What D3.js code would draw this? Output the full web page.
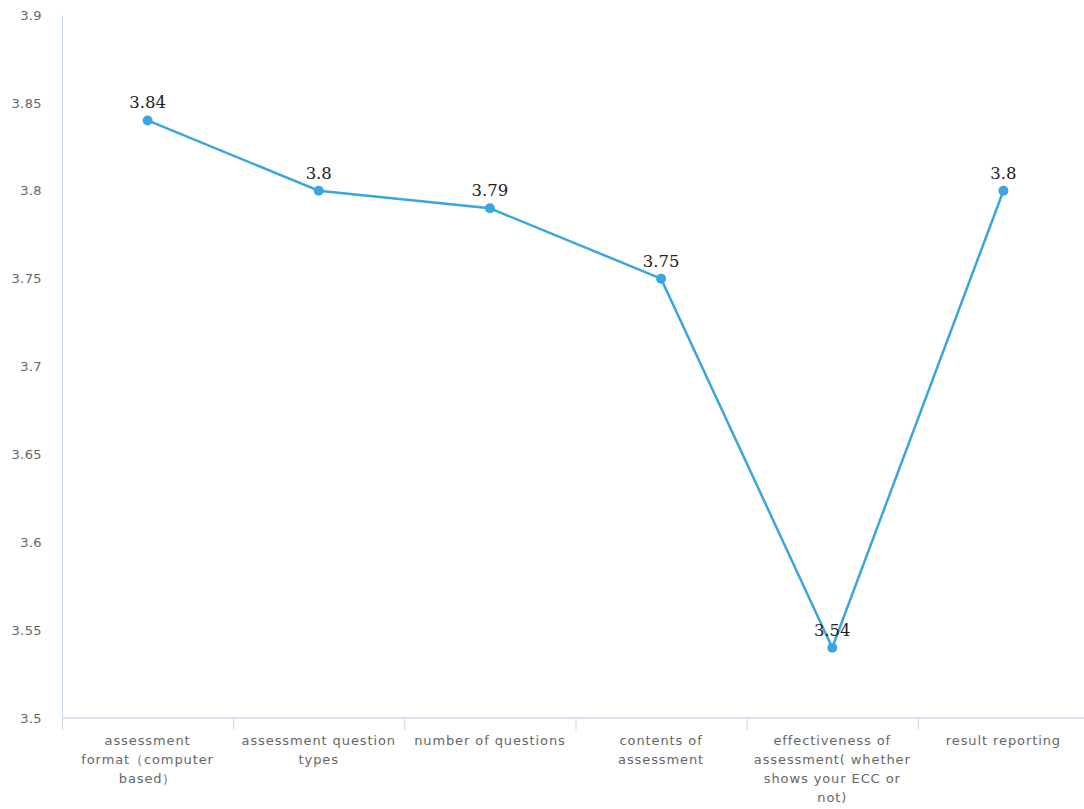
<!DOCTYPE html>
<html>
<head>
<meta charset="utf-8">
<script src="https://cdn.jsdelivr.net/npm/d3@7"></script>
<style>
  html, body { margin: 0; padding: 0; background: #fff; }
  svg { display: block; }
</style>
</head>
<body>
<svg id="chart" width="1084" height="809"></svg>
<script>
// Average ratings per assessment aspect
const categories = [
  "assessment format（computer based）",
  "assessment question types",
  "number of questions",
  "contents of assessment",
  "effectiveness of assessment( whether shows your ECC or not)",
  "result reporting"
];
const values = [3.84, 3.8, 3.79, 3.75, 3.54, 3.8];
const yTicks = [3.5, 3.55, 3.6, 3.65, 3.7, 3.75, 3.8, 3.85, 3.9];

const svg = d3.select("#chart");
const W = 1084, H = 809;
const plot = { left: 62, right: 1089, top: 15, bottom: 718 };

const x = d3.scaleBand()
  .domain(categories)
  .range([plot.left, plot.right])
  .paddingInner(0).paddingOuter(0);

const y = d3.scaleLinear()
  .domain([3.5, 3.9])
  .range([plot.bottom, plot.top]);

const axisColor = "#c9d7e8";
const labelColor = "#666";
const sansFont = "DejaVu Sans, Verdana, sans-serif";

// Y axis
const yAxis = svg.append("g")
  .attr("transform", `translate(${plot.left},0)`)
  .call(d3.axisLeft(y).tickValues(yTicks).tickSize(0).tickPadding(20)
    .tickFormat(d => String(+d.toFixed(2))));
yAxis.select(".domain").attr("stroke", axisColor);
yAxis.selectAll("text")
  .attr("fill", labelColor)
  .style("font-family", sansFont)
  .style("font-size", "13px")
  .style("letter-spacing", "0.4px");

// X axis with ticks at band edges
const xAxisG = svg.append("g")
  .attr("transform", `translate(0,${y(3.5)})`);
xAxisG.append("line")
  .attr("x1", plot.left).attr("x2", W)
  .attr("y1", 0).attr("y2", 0)
  .attr("stroke", axisColor).attr("stroke-width", 1.5);
xAxisG.selectAll("line.tick")
  .data(categories)
  .join("line")
  .attr("class", "tick")
  .attr("x1", d => x(d) + 0.5).attr("x2", d => x(d) + 0.5)
  .attr("y1", 0).attr("y2", 12)
  .attr("stroke", axisColor);

// Wrapped category labels
function wrap(textSel, width) {
  textSel.each(function() {
    const text = d3.select(this);
    const words = text.text().split(/\s+/);
    const cx = text.attr("x");
    text.text(null);
    let line = [];
    let tspan = text.append("tspan").attr("x", cx).attr("dy", 0);
    for (const w of words) {
      line.push(w);
      tspan.text(line.join(" "));
      if (tspan.node().getComputedTextLength() > width && line.length > 1) {
        line.pop();
        tspan.text(line.join(" "));
        line = [w];
        tspan = text.append("tspan").attr("x", cx).attr("dy", "19px").text(w);
      }
    }
  });
}

xAxisG.selectAll("text.cat")
  .data(categories)
  .join("text")
  .attr("class", "cat")
  .attr("x", d => x(d) + x.bandwidth() / 2)
  .attr("y", 27)
  .attr("text-anchor", "middle")
  .attr("fill", labelColor)
  .style("font-family", sansFont)
  .style("font-size", "13px")
  .style("letter-spacing", "0.9px")
  .text(d => d)
  .call(wrap, 162);

// Line and points
const lineColor = "#3aa6e0";
const pts = categories.map((c, i) => ({ c, v: values[i] }));

svg.append("path")
  .datum(pts)
  .attr("fill", "none")
  .attr("stroke", lineColor)
  .attr("stroke-width", 2.5)
  .attr("d", d3.line().x(d => x(d.c) + x.bandwidth() / 2).y(d => y(d.v)));

svg.selectAll("circle.pt")
  .data(pts)
  .join("circle")
  .attr("class", "pt")
  .attr("cx", d => x(d.c) + x.bandwidth() / 2)
  .attr("cy", d => y(d.v))
  .attr("r", 5)
  .attr("fill", lineColor);

// Value labels
svg.selectAll("text.val")
  .data(pts)
  .join("text")
  .attr("class", "val")
  .attr("x", d => x(d.c) + x.bandwidth() / 2)
  .attr("y", d => y(d.v) - 12)
  .attr("text-anchor", "middle")
  .attr("fill", "#222")
  .style("font-family", "DejaVu Serif, serif")
  .style("font-size", "16.5px")
  .text(d => d.v);
</script>
</body>
</html>
